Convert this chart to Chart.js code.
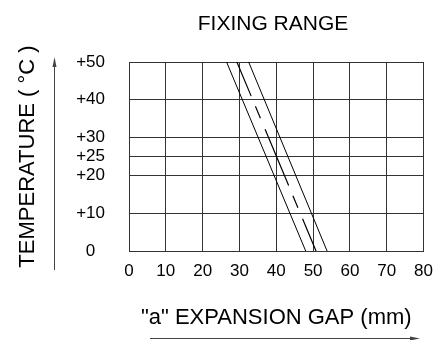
<!DOCTYPE html>
<html>
<head>
<meta charset="utf-8">
<script src="https://cdn.jsdelivr.net/npm/chart.js@4/dist/chart.umd.min.js"></script>
<style>
html, body { margin: 0; padding: 0; background: #fff; }
#wrap { width: 443px; height: 340px; }
</style>
</head>
<body>
<div id="wrap"><canvas id="myChart" width="443" height="340"></canvas></div>
<script>
// tick values
const gapTicks = [0, 10, 20, 30, 40, 50, 60, 70, 80];
const tempTicks = [0, 10, 20, 25, 30, 40, 50];

// the three lines, gap (mm) at +50 and at 0 degrees
const lineTemps = [50, 0];
const lowerGap = [26.5, 48];
const meanGap = [29.3, 50.8];
const upperGap = [32.5, 53.8];

const sans = "'Liberation Sans', Arial, sans-serif";
const narrow = "'Liberation Sans Narrow', 'Liberation Sans', Arial, sans-serif";
const gridColor = '#333';

const toPoints = (gaps) => gaps.map((g, i) => ({ x: g, y: lineTemps[i] }));

// title + the two axis arrows
const extras = {
    id: 'extras',
    afterDraw(chart) {
        const c = chart.ctx;
        c.save();
        c.fillStyle = '#000';
        c.font = '21px ' + sans;
        c.textAlign = 'center';
        c.textBaseline = 'middle';
        c.fillText('FIXING RANGE', 273, 24);

        c.strokeStyle = '#444';
        c.fillStyle = '#444';
        c.lineWidth = 1;
        // vertical arrow
        c.beginPath();
        c.moveTo(54.5, 270);
        c.lineTo(54.5, 62);
        c.stroke();
        c.beginPath();
        c.moveTo(54.5, 57);
        c.lineTo(52.5, 67);
        c.lineTo(56.5, 67);
        c.closePath();
        c.fill();
        // horizontal arrow
        c.beginPath();
        c.moveTo(150, 338.5);
        c.lineTo(414, 338.5);
        c.stroke();
        c.beginPath();
        c.moveTo(420, 338.5);
        c.lineTo(410, 336.5);
        c.lineTo(410, 340.5);
        c.closePath();
        c.fill();
        c.restore();
    }
};

const ctx = document.getElementById('myChart').getContext('2d');

const myChart = new Chart(ctx, {
    type: 'scatter',
    data: {
        datasets: [
            { data: toPoints(lowerGap), borderColor: '#000', borderWidth: 1 },
            { data: toPoints(meanGap), borderColor: '#000', borderWidth: 1.2,
              borderDash: [37, 11, 13, 12, 61, 11, 13, 12, 36] },
            { data: toPoints(upperGap), borderColor: '#000', borderWidth: 1 }
        ].map(d => Object.assign(d, { showLine: true, pointRadius: 0, fill: false }))
    },
    options: {
        responsive: false,
        animation: false,
        layout: { padding: { top: 62, right: 11, left: 0, bottom: 0 } },
        plugins: {
            legend: { display: false },
            tooltip: { enabled: false },
            title: { display: false }
        },
        scales: {
            x: {
                type: 'linear',
                min: 0,
                max: 80,
                afterBuildTicks: (s) => { s.ticks = gapTicks.map(v => ({ value: v })); },
                afterFit: (s) => { s.height = 89; },
                grid: { color: gridColor, drawTicks: false },
                border: { color: gridColor },
                ticks: {
                    autoSkip: false,
                    maxRotation: 0,
                    padding: 10,
                    color: '#000',
                    font: { family: narrow, size: 17 }
                },
                title: {
                    display: true,
                    text: '"a" EXPANSION GAP (mm)',
                    color: '#000',
                    font: { family: sans, size: 22 },
                    padding: { top: 0, bottom: 9 }
                }
            },
            y: {
                type: 'linear',
                min: 0,
                max: 50,
                afterBuildTicks: (s) => { s.ticks = tempTicks.map(v => ({ value: v })); },
                afterFit: (s) => { s.width = 129; },
                grid: { color: gridColor, drawTicks: false },
                border: { color: gridColor },
                ticks: {
                    autoSkip: false,
                    crossAlign: 'center',
                    padding: 24,
                    color: '#000',
                    font: { family: narrow, size: 17 },
                    callback: (v) => v === 0 ? '0' : '+' + v
                },
                title: {
                    display: true,
                    text: 'TEMPERATURE ( °C )',
                    color: '#000',
                    font: { family: sans, size: 22 },
                    padding: { top: 15, bottom: 0 }
                }
            }
        }
    },
    plugins: [extras]
});
</script>
</body>
</html>
